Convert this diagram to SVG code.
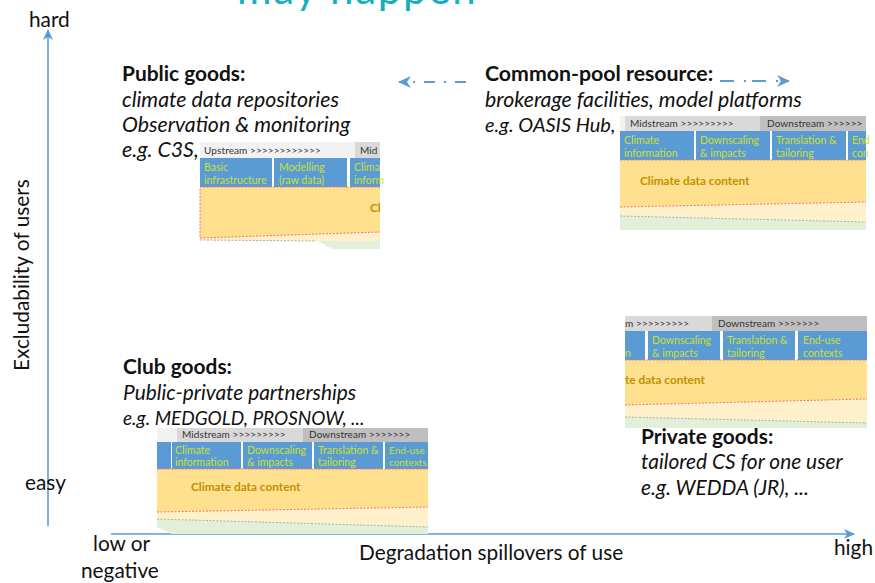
<svg xmlns="http://www.w3.org/2000/svg" width="875" height="583" viewBox="0 0 875 583">
<defs>
<marker id="ah" markerWidth="12" markerHeight="12" refX="10" refY="5" orient="auto" markerUnits="userSpaceOnUse"><path d="M0,0 L11,5 L0,10 L3,5 Z" fill="#5B9BD5"/></marker>
<marker id="ahd" markerWidth="14" markerHeight="14" refX="12" refY="6" orient="auto" markerUnits="userSpaceOnUse"><path d="M0,0 L13,6 L0,12 L4,6 Z" fill="#5B9BD5"/></marker>
</defs>
<style>
text{font-family:Lato,"Open Sans","Liberation Sans",sans-serif}
.l{font-size:20.8px;fill:#111}
.b{font-size:20.9px;font-weight:700;fill:#111}
.i{font-size:20.9px;font-style:italic;fill:#111}
.i2{font-size:21.3px;font-style:italic;fill:#111}
.h{font-size:10px;fill:#333;letter-spacing:.1px}
.c{font-size:10.5px;fill:#C9E02A}
.d{font-size:11.8px;font-weight:700;fill:#BF9000}
.blue{fill:#5B9BD5}
.y{fill:#FFE08F}
.o{fill:#FFF0CC}
.g{fill:#E2EFD9}
.rl{fill:none;stroke:#F4736A;stroke-width:1;stroke-dasharray:2 1.5}
.gl{fill:none;stroke:#A5B5A0;stroke-width:1;stroke-dasharray:2 1.5}
.ax{fill:none;stroke:#5B9BD5;stroke-width:1.6}
</style>
<text x="237" y="4" font-size="42" fill="#17AEBF" letter-spacing="1.7">may happen</text>

<g id="connectors">
<path class="ax" d="M48,526 V30" marker-end="url(#ah)"/>
<path class="ax" d="M111,534 H854" marker-end="url(#ah)"/>
<path d="M466,82 H399" fill="none" stroke="#5B9BD5" stroke-width="2" stroke-dasharray="11 9 2 9" marker-end="url(#ahd)"/>
<path d="M720,81 H789" fill="none" stroke="#5B9BD5" stroke-width="2" stroke-dasharray="14 10 2 6" marker-end="url(#ahd)"/>
</g>

<g id="axis-labels">
<text class="l" x="29" y="27">hard</text>
<text class="l" x="25" y="490">easy</text>
<text class="l" transform="translate(29,371) rotate(-90)">Excludability of users</text>
<text class="l" x="93" y="551">low or</text>
<text class="l" x="81" y="578">negative</text>
<text class="l" x="359" y="560">Degradation spillovers of use</text>
<text class="l" x="834" y="555">high</text>
</g>

<g id="public-goods">
<text class="b" x="122" y="81">Public goods:</text>
<text class="i2" x="122" y="107">climate data repositories</text>
<text class="i2" x="122" y="132">Observation &amp; monitoring</text>
<text class="i2" x="122" y="157">e.g. C3S,</text>
<rect x="200" y="142" width="180" height="16" fill="#F2F2F2"/>
<rect x="355" y="142" width="25" height="16" fill="#D9D9D9"/>
<text class="h" x="204" y="154">Upstream &gt;&gt;&gt;&gt;&gt;&gt;&gt;&gt;&gt;&gt;&gt;&gt;</text>
<text class="h" x="360" y="154">Mid</text>
<rect class="blue" x="200" y="158" width="72" height="29"/>
<rect class="blue" x="274" y="158" width="73" height="29"/>
<rect class="blue" x="350" y="158" width="30" height="29"/>
<text class="c" x="204" y="171">Basic</text><text class="c" x="204" y="184">infrastructure</text>
<text class="c" x="279" y="171">Modelling</text><text class="c" x="279" y="184">(raw data)</text>
<text class="c" x="354" y="171">Clima</text><text class="c" x="354" y="184">inform</text>
<path class="o" d="M200,238 L380,232 V241 H316 L200,240 Z"/>
<path class="g" d="M318,241 L380,241 V249 H332 Z"/>
<path class="y" d="M200,187 H380 V232 L200,238 Z"/>
<path class="rl" d="M380,187 H200 V238 L380,232"/>
<path class="gl" d="M200,240 L316,241"/>
<text class="d" x="370" y="212">Cl</text>
</g>

<g id="common-pool-resource">
<text class="b" x="485" y="81" style="font-size:21.3px">Common-pool resource:</text>
<text class="i2" x="485" y="107">brokerage facilities, model platforms</text>
<text class="i2" x="485" y="132" style="font-size:20px">e.g. OASIS Hub,</text>
<rect x="620" y="116" width="246" height="15" fill="#F2F2F2"/>
<rect x="625" y="116" width="135" height="15" fill="#D9D9D9"/>
<rect x="760" y="116" width="106" height="15" fill="#BFBFBF"/>
<text class="h" x="630" y="127">Midstream &gt;&gt;&gt;&gt;&gt;&gt;&gt;&gt;&gt;</text>
<text class="h" x="767" y="127">Downstream &gt;&gt;&gt;&gt;&gt;&gt;</text>
<rect x="620" y="131" width="246" height="29" fill="#fff"/>
<rect class="blue" x="620" y="131" width="74" height="29"/>
<rect class="blue" x="696" y="131" width="74" height="29"/>
<rect class="blue" x="772" y="131" width="74" height="29"/>
<rect class="blue" x="848" y="131" width="18" height="29"/>
<text class="c" x="624" y="144">Climate</text><text class="c" x="624" y="157">information</text>
<text class="c" x="700" y="144">Downscaling</text><text class="c" x="700" y="157">&amp; impacts</text>
<text class="c" x="776" y="144">Translation &amp;</text><text class="c" x="776" y="157">tailoring</text>
<text class="c" x="852" y="144">End</text><text class="c" x="852" y="157">con</text>
<path class="y" d="M620,160 H866 V202 L620,207 Z"/>
<path class="o" d="M620,207 L866,202 V222 L620,216 Z"/>
<path class="g" d="M620,216 L866,222 V230 H620 Z"/>
<path class="rl" d="M620,160 H866 M620,207 L866,202"/>
<path class="gl" d="M620,216 L866,222"/>
<text class="d" x="640" y="185">Climate data content</text>
</g>

<g id="club-goods">
<text class="b" x="123" y="374">Club goods:</text>
<text class="i" x="123" y="400">Public-private partnerships</text>
<text class="i" x="123" y="425" style="font-size:19px">e.g. MEDGOLD, PROSNOW, ...</text>
<rect x="157" y="428" width="271" height="14" fill="#F2F2F2"/>
<rect x="177" y="428" width="130" height="14" fill="#D9D9D9"/>
<rect x="303" y="428" width="125" height="14" fill="#BFBFBF"/>
<text class="h" x="182" y="438">Midstream &gt;&gt;&gt;&gt;&gt;&gt;&gt;&gt;&gt;</text>
<text class="h" x="309" y="438">Downstream &gt;&gt;&gt;&gt;&gt;&gt;&gt;</text>
<rect class="blue" x="157" y="442" width="14" height="27"/>
<rect class="blue" x="172" y="442" width="69" height="27"/>
<rect class="blue" x="243" y="442" width="69" height="27"/>
<rect class="blue" x="314" y="442" width="69" height="27"/>
<rect class="blue" x="385" y="442" width="43" height="27"/>
<text class="c" x="175" y="454">Climate</text><text class="c" x="175" y="466">information</text>
<text class="c" x="247" y="454">Downscaling</text><text class="c" x="247" y="466">&amp; impacts</text>
<text class="c" x="318" y="454">Translation &amp;</text><text class="c" x="318" y="466">tailoring</text>
<text class="c" x="389" y="454" style="font-size:10px">End-use</text><text class="c" x="389" y="466" style="font-size:10px">contexts</text>
<path class="y" d="M157,469 H428 V507 L157,512 Z"/>
<path class="o" d="M157,512 L428,507 V527 L157,519 Z"/>
<path class="g" d="M157,519 L428,527 V534 H172 L157,527 Z"/>
<path class="rl" d="M157,469 H428 M157,512 L428,507"/>
<path class="gl" d="M157,519 L428,527"/>
<text class="d" x="191" y="491">Climate data content</text>
</g>

<g id="private-goods">
<rect x="625" y="316" width="87" height="15" fill="#D9D9D9"/>
<rect x="712" y="316" width="155" height="15" fill="#BFBFBF"/>
<text class="h" x="625" y="327">m &gt;&gt;&gt;&gt;&gt;&gt;&gt;&gt;&gt;</text>
<text class="h" x="718" y="327">Downstream &gt;&gt;&gt;&gt;&gt;&gt;&gt;</text>
<rect class="blue" x="625" y="331" width="20" height="29"/>
<rect class="blue" x="648" y="331" width="72" height="29"/>
<rect class="blue" x="723" y="331" width="72" height="29"/>
<rect class="blue" x="798" y="331" width="69" height="29"/>
<text class="c" x="625" y="357">n</text>
<text class="c" x="652" y="344">Downscaling</text><text class="c" x="652" y="357">&amp; impacts</text>
<text class="c" x="727" y="344">Translation &amp;</text><text class="c" x="727" y="357">tailoring</text>
<text class="c" x="803" y="344">End-use</text><text class="c" x="803" y="357">contexts</text>
<path class="y" d="M625,360 H867 V399 L625,405 Z"/>
<path class="o" d="M625,405 L867,399 V423 L625,417 Z"/>
<path class="g" d="M625,417 L867,423 V428 H625 Z"/>
<path class="rl" d="M625,360 H867 M625,405 L867,399"/>
<path class="gl" d="M625,417 L867,423"/>
<text class="d" x="625" y="384">te data content</text>
<text class="b" x="641" y="444">Private goods:</text>
<text class="i" x="641" y="469">tailored CS for one user</text>
<text class="i" x="641" y="495">e.g. WEDDA (JR), ...</text>
</g>
</svg>
